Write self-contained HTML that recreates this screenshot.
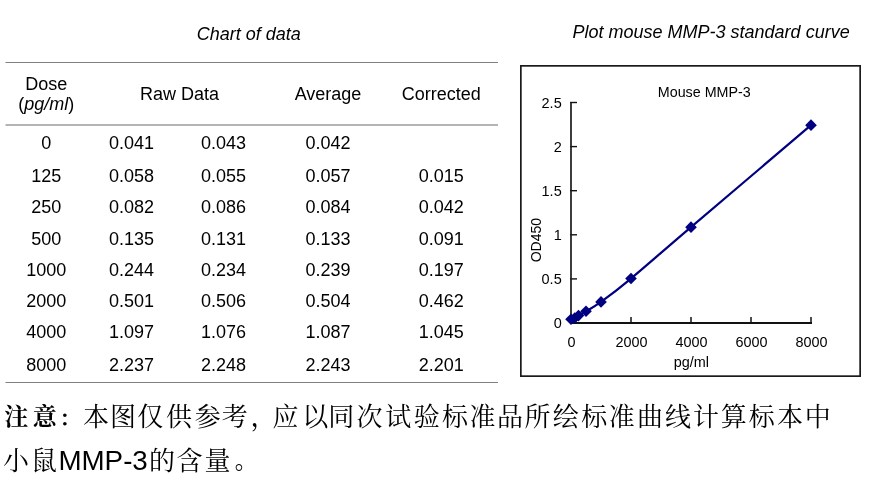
<!DOCTYPE html>
<html><head><meta charset="utf-8"><style>
html,body{margin:0;padding:0;background:#fff;width:872px;height:489px;overflow:hidden}
svg{display:block;position:absolute;left:0;top:0}
</style></head><body>
<svg width="872" height="489" viewBox="0 0 872 489">
<g font-family="Liberation Sans, Arial, sans-serif" fill="#000">
<text x="248.8" y="40" font-size="18" font-style="italic" text-anchor="middle">Chart of data</text>
<text x="711.1" y="37.9" font-size="18" font-style="italic" text-anchor="middle">Plot mouse MMP-3 standard curve</text>
</g>
<rect x="5.5" y="62" width="492.5" height="1" fill="#808080"/>
<rect x="5.5" y="124" width="492.5" height="2" fill="#b4b4b4"/>
<rect x="5.5" y="382" width="492.5" height="1" fill="#808080"/>
<g font-family="Liberation Sans, Arial, sans-serif" font-size="18" text-anchor="middle" fill="#000">
<text x="46.2" y="90">Dose</text>
<text x="46.2" y="109.5">(<tspan font-style="italic">pg/ml</tspan>)</text>
<text x="179.5" y="100">Raw Data</text>
<text x="328" y="100">Average</text>
<text x="441.2" y="100">Corrected</text>
<text x="46.2" y="149.0">0</text>
<text x="131.5" y="149.0">0.041</text>
<text x="223.5" y="149.0">0.043</text>
<text x="328" y="149.0">0.042</text>
<text x="46.2" y="181.8">125</text>
<text x="131.5" y="181.8">0.058</text>
<text x="223.5" y="181.8">0.055</text>
<text x="328" y="181.8">0.057</text>
<text x="441.2" y="181.8">0.015</text>
<text x="46.2" y="213.1">250</text>
<text x="131.5" y="213.1">0.082</text>
<text x="223.5" y="213.1">0.086</text>
<text x="328" y="213.1">0.084</text>
<text x="441.2" y="213.1">0.042</text>
<text x="46.2" y="244.6">500</text>
<text x="131.5" y="244.6">0.135</text>
<text x="223.5" y="244.6">0.131</text>
<text x="328" y="244.6">0.133</text>
<text x="441.2" y="244.6">0.091</text>
<text x="46.2" y="276.1">1000</text>
<text x="131.5" y="276.1">0.244</text>
<text x="223.5" y="276.1">0.234</text>
<text x="328" y="276.1">0.239</text>
<text x="441.2" y="276.1">0.197</text>
<text x="46.2" y="307.1">2000</text>
<text x="131.5" y="307.1">0.501</text>
<text x="223.5" y="307.1">0.506</text>
<text x="328" y="307.1">0.504</text>
<text x="441.2" y="307.1">0.462</text>
<text x="46.2" y="338.1">4000</text>
<text x="131.5" y="338.1">1.097</text>
<text x="223.5" y="338.1">1.076</text>
<text x="328" y="338.1">1.087</text>
<text x="441.2" y="338.1">1.045</text>
<text x="46.2" y="370.8">8000</text>
<text x="131.5" y="370.8">2.237</text>
<text x="223.5" y="370.8">2.248</text>
<text x="328" y="370.8">2.243</text>
<text x="441.2" y="370.8">2.201</text>
</g>
<rect x="520.85" y="65.85" width="339.3" height="310.3" fill="none" stroke="#1a1a1a" stroke-width="1.7"/>
<g font-family="Liberation Sans, Arial, sans-serif" font-size="14" fill="#000">
<text x="704.3" y="96.9" text-anchor="middle" textLength="93" lengthAdjust="spacingAndGlyphs">Mouse MMP-3</text>
<text x="691.4" y="366.8" text-anchor="middle" textLength="35.3" lengthAdjust="spacingAndGlyphs">pg/ml</text>
<text transform="translate(541,240.2) rotate(-90)" text-anchor="middle">OD450</text>
<text x="561.7" y="328.30" text-anchor="end" textLength="8.05" lengthAdjust="spacingAndGlyphs">0</text><text x="561.7" y="284.20" text-anchor="end" textLength="20.13" lengthAdjust="spacingAndGlyphs">0.5</text><text x="561.7" y="240.10" text-anchor="end" textLength="8.05" lengthAdjust="spacingAndGlyphs">1</text><text x="561.7" y="196.00" text-anchor="end" textLength="20.13" lengthAdjust="spacingAndGlyphs">1.5</text><text x="561.7" y="151.90" text-anchor="end" textLength="8.05" lengthAdjust="spacingAndGlyphs">2</text><text x="561.7" y="107.80" text-anchor="end" textLength="20.13" lengthAdjust="spacingAndGlyphs">2.5</text>
<text x="571.50" y="346.8" text-anchor="middle" textLength="8.02" lengthAdjust="spacingAndGlyphs">0</text><text x="631.50" y="346.8" text-anchor="middle" textLength="32.07" lengthAdjust="spacingAndGlyphs">2000</text><text x="691.50" y="346.8" text-anchor="middle" textLength="32.07" lengthAdjust="spacingAndGlyphs">4000</text><text x="751.50" y="346.8" text-anchor="middle" textLength="32.07" lengthAdjust="spacingAndGlyphs">6000</text><text x="811.50" y="346.8" text-anchor="middle" textLength="32.07" lengthAdjust="spacingAndGlyphs">8000</text>
</g>
<g stroke="#111" stroke-width="1" fill="none">
<line x1="570" y1="323.00" x2="577" y2="323.00" stroke-width="1.4"/><line x1="570" y1="278.90" x2="577" y2="278.90" stroke-width="1.4"/><line x1="570" y1="234.80" x2="577" y2="234.80" stroke-width="1.4"/><line x1="570" y1="190.70" x2="577" y2="190.70" stroke-width="1.4"/><line x1="570" y1="146.60" x2="577" y2="146.60" stroke-width="1.4"/><line x1="570" y1="102.50" x2="577" y2="102.50" stroke-width="1.4"/>
<line x1="631.00" y1="317" x2="631.00" y2="323" stroke-width="1.5"/><line x1="691.00" y1="317" x2="691.00" y2="323" stroke-width="1.5"/><line x1="751.00" y1="317" x2="751.00" y2="323" stroke-width="1.5"/><line x1="811.00" y1="317" x2="811.00" y2="323" stroke-width="1.5"/>
</g>
<line x1="571" y1="102" x2="571" y2="324" stroke="#1a1a1a" stroke-width="1.7"/>
<line x1="570" y1="323" x2="812" y2="323" stroke="#111" stroke-width="2"/>
<path d="M571.00,319.30 C571.62,319.08 573.50,318.59 574.75,317.97 C576.00,317.36 576.62,316.71 578.50,315.59 C580.38,314.47 582.25,313.55 586.00,311.27 C589.75,308.99 593.50,307.37 601.00,301.92 C608.50,296.47 616.00,291.01 631.00,278.55 C646.00,266.08 661.00,252.69 691.00,227.13 C721.00,201.56 791.00,142.16 811.00,125.17" fill="none" stroke="#000080" stroke-width="2.2"/>
<g fill="#000080">
<path d="M571.00,313.50 L576.80,319.30 L571.00,325.10 L565.20,319.30Z"/>
<path d="M574.75,312.17 L580.55,317.97 L574.75,323.77 L568.95,317.97Z"/>
<path d="M578.50,309.79 L584.30,315.59 L578.50,321.39 L572.70,315.59Z"/>
<path d="M586.00,305.47 L591.80,311.27 L586.00,317.07 L580.20,311.27Z"/>
<path d="M601.00,296.12 L606.80,301.92 L601.00,307.72 L595.20,301.92Z"/>
<path d="M631.00,272.75 L636.80,278.55 L631.00,284.35 L625.20,278.55Z"/>
<path d="M691.00,221.33 L696.80,227.13 L691.00,232.93 L685.20,227.13Z"/>
<path d="M811.00,119.37 L816.80,125.17 L811.00,130.97 L805.20,125.17Z"/>
</g>
</svg>
<svg width="872" height="489" viewBox="0 0 872 489" style="position:absolute;left:0;top:0">
<g font-family="'Liberation Serif', 'Noto Serif CJK SC', serif" font-size="26" fill="#000">
<text x="4.2 32.7" y="424.8" font-weight="700" font-size="24">注意</text>
<text x="59.6" y="426.4" font-weight="700" font-size="20">：</text>
<text x="83.0 110.1 137.3 165.9 194.7 221.7 250.6 272.6 302.2 328.2 356.4 385.3 413.8 442.0 469.6 497.1 524.6 552.7 581.3 608.7 637.0 665.1 692.9 720.8 748.7 777.0 804.7" y="425.6" font-weight="400">本图仅供参考，应以同次试验标准品所绘标准曲线计算标本中</text>
<text x="3.1 31.1" y="469.9" font-weight="400">小鼠</text>
<text x="58.4" y="470" font-family="Liberation Sans, Arial, sans-serif" font-size="27.75">MMP-3</text>
<text x="149.1 176.6 204.4" y="469.9" font-weight="400">的含量</text>
<text x="234.7" y="467.9" font-weight="900" font-size="23">。</text>
</g></svg>
</body></html>
